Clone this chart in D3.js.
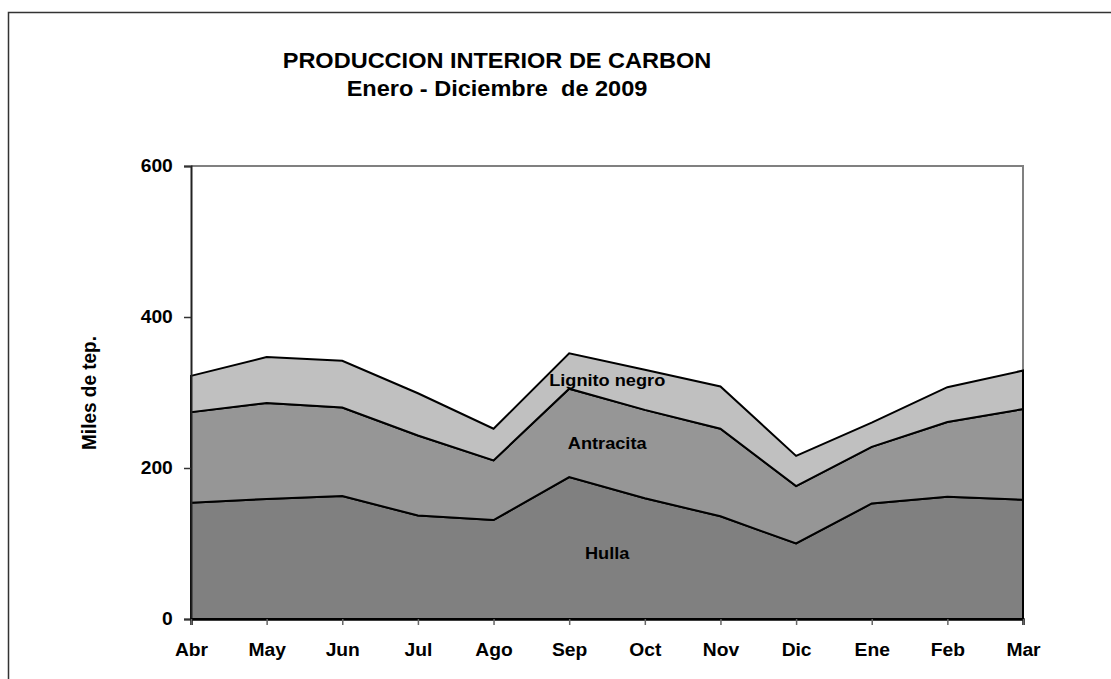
<!DOCTYPE html>
<meta charset="utf-8">
<style>
    body { margin: 0; background: #fff; }
    text {
        font-family: "Liberation Sans", Arial, sans-serif;
        font-weight: bold;
        fill: #000;
    }
</style>
<body>
<svg width="1111" height="679"></svg>
</body>
<script src="https://d3js.org/d3.v7.min.js"></script>
<script>
    // meses (abril 2009 - marzo 2010 como en el original)
    const months = ["Abr", "May", "Jun", "Jul", "Ago", "Sep", "Oct", "Nov", "Dic", "Ene", "Feb", "Mar"];
    // miles de tep
    const hulla     = [154, 159, 163, 137, 131, 188, 160, 136, 100, 153, 162, 158];
    const antracita = [120, 127, 117, 106,  79, 117, 117, 116,  76,  75,  99, 120];
    const lignito   = [ 48,  61,  62,  56,  42,  47,  53,  56,  40,  32,  46,  51];
    const seriesNames = ["Hulla", "Antracita", "Lignito negro"];
    const yTicks = [0, 200, 400, 600];

    const svg = d3.select("svg");
    const sx = 1.07; // texto algo ensanchado como en la imagen

    // marco exterior
    svg.append("rect")
        .attr("x", 8.5).attr("y", 12.5)
        .attr("width", 1300).attr("height", 900)
        .attr("fill", "none")
        .attr("stroke", "#333")
        .attr("stroke-width", 1.5);

    const x = d3.scalePoint().domain(months).range([191, 1023]);
    const y = d3.scaleLinear().domain([0, 600]).range([619, 166]);

    const table = months.map((m, i) => ({
        month: m,
        "Hulla": hulla[i],
        "Antracita": antracita[i],
        "Lignito negro": lignito[i]
    }));
    const stacked = d3.stack().keys(seriesNames)(table);
    const colors = {"Hulla": "#808080", "Antracita": "#969696", "Lignito negro": "#c0c0c0"};

    // borde superior y derecho del area de trazado
    svg.append("path")
        .attr("d", `M${x("Abr")},${y(600)}H${x("Mar")}V${y(0)}`)
        .attr("fill", "none")
        .attr("stroke", "#808080")
        .attr("stroke-width", 2);

    const area = d3.area()
        .x(d => x(d.data.month))
        .y0(d => y(d[0]))
        .y1(d => y(d[1]));

    svg.append("g")
        .selectAll("path")
        .data(stacked)
        .join("path")
        .attr("d", area)
        .attr("fill", d => colors[d.key])
        .attr("stroke", "#000")
        .attr("stroke-width", 2)
        .attr("stroke-linejoin", "miter");

    // ejes
    const yAxis = svg.append("g")
        .attr("transform", `translate(${x("Abr")},0)`)
        .call(d3.axisLeft(y).tickValues(yTicks).tickSize(7).tickPadding(10).tickFormat(d3.format("d")));
    yAxis.select(".domain").attr("stroke", "#222").attr("stroke-width", 2);
    yAxis.selectAll(".tick line").attr("stroke", "#333").attr("stroke-width", 1.5);
    yAxis.selectAll(".tick text")
        .attr("font-size", 18)
        .attr("transform", `scale(${sx},1)`);

    const xAxis = svg.append("g")
        .attr("transform", `translate(0,${y(0)})`)
        .call(d3.axisBottom(x).tickSize(6).tickPadding(18));
    xAxis.select(".domain").attr("stroke", "#000").attr("stroke-width", 2.5);
    xAxis.selectAll(".tick line").attr("stroke", "#666").attr("stroke-width", 1.5);
    xAxis.selectAll(".tick text")
        .attr("font-size", 18)
        .attr("dy", "0.71em")
        .attr("transform", `scale(${sx},1)`);

    // titulo
    const title = svg.append("g").attr("transform", `translate(497,0) scale(${sx},1)`);
    title.append("text")
        .attr("y", 68).attr("text-anchor", "middle")
        .attr("font-size", 22)
        .text("PRODUCCION INTERIOR DE CARBON");
    title.append("text")
        .attr("y", 96).attr("text-anchor", "middle")
        .attr("font-size", 22)
        .style("white-space", "pre")
        .text("Enero - Diciembre  de 2009");

    // titulo eje y
    svg.append("text")
        .attr("transform", `translate(96,393) rotate(-90) scale(1,${sx})`)
        .attr("text-anchor", "middle")
        .attr("font-size", 19)
        .text("Miles de tep.");

    // etiquetas de series
    const labelPos = [
        {name: "Hulla", month: "Sep", v: 79},
        {name: "Antracita", month: "Sep", v: 225},
        {name: "Lignito negro", month: "Sep", v: 308}
    ];
    svg.append("g")
        .selectAll("text")
        .data(labelPos)
        .join("text")
        .attr("transform", d => `translate(${x(d.month) + 38},${y(d.v)}) scale(${sx},1)`)
        .attr("text-anchor", "middle")
        .attr("font-size", 17)
        .text(d => d.name);
</script>
